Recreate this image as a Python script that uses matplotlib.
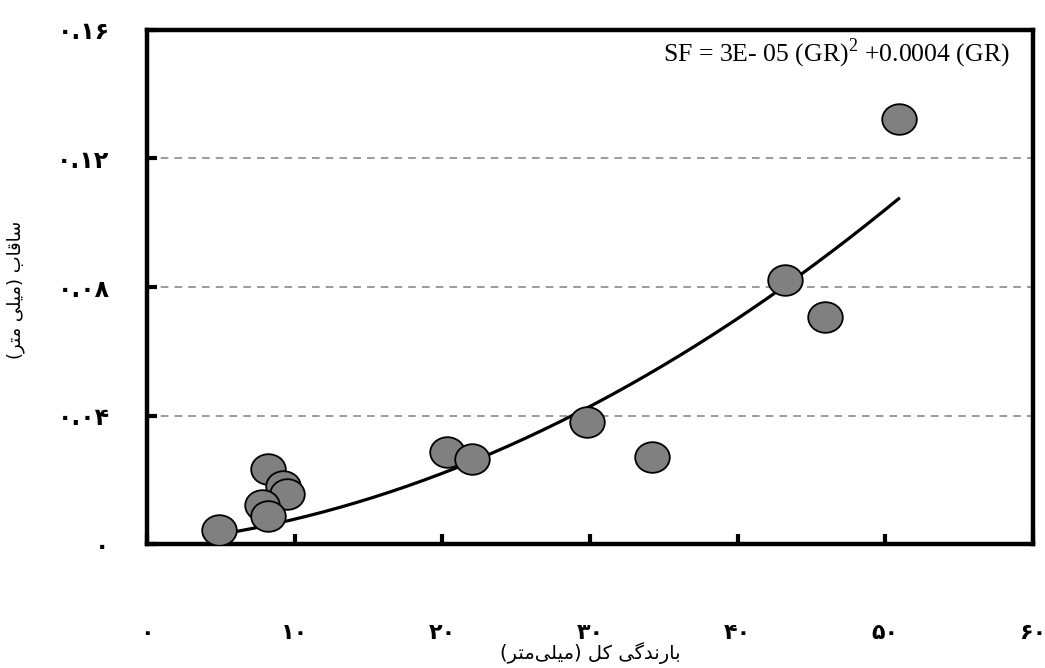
import numpy as np
import matplotlib
matplotlib.use("Agg")
import matplotlib.pyplot as plt
from matplotlib.path import Path
from matplotlib.transforms import Affine2D

# data
rain = [4.9, 8.2, 9.2, 9.5, 7.8, 8.2, 20.3, 22.0, 29.8, 34.2, 43.2, 45.9, 50.9]
stemflow = [0.0044, 0.0233, 0.018, 0.0156, 0.0121, 0.0087, 0.0286, 0.0265,
            0.038, 0.0271, 0.0822, 0.0707, 0.1323]

x_ticks = [0, 10, 20, 30, 40, 50, 60]
x_ticklabels = ["۰", "۱۰", "۲۰", "۳۰", "۴۰", "۵۰", "۶۰"]
y_ticks = [0, 0.04, 0.08, 0.12, 0.16]
y_ticklabels = ["۰", "۰.۰۴", "۰.۰۸", "۰.۱۲", "۰.۱۶"]

x_label = "بارندگی کل (میلی\u200cمتر)"
y_label = "ساقاب (میلی متر)"
equation = "SF = 3E- 05 (GR)$^2$ +0.0004 (GR)"

# contextual forms: isolated, final, initial, medial
FORMS = {
    "ا": ("\uFE8D", "\uFE8E", None, None),
    "ب": ("\uFE8F", "\uFE90", "\uFE91", "\uFE92"),
    "ت": ("\uFE95", "\uFE96", "\uFE97", "\uFE98"),
    "د": ("\uFEA9", "\uFEAA", None, None),
    "ر": ("\uFEAD", "\uFEAE", None, None),
    "س": ("\uFEB1", "\uFEB2", "\uFEB3", "\uFEB4"),
    "ق": ("\uFED5", "\uFED6", "\uFED7", "\uFED8"),
    "ک": ("\uFB8E", "\uFB8F", "\uFB90", "\uFB91"),
    "گ": ("\uFB92", "\uFB93", "\uFB94", "\uFB95"),
    "ل": ("\uFEDD", "\uFEDE", "\uFEDF", "\uFEE0"),
    "م": ("\uFEE1", "\uFEE2", "\uFEE3", "\uFEE4"),
    "ن": ("\uFEE5", "\uFEE6", "\uFEE7", "\uFEE8"),
    "ی": ("\uFBFC", "\uFBFD", "\uFBFE", "\uFBFF"),
}


def shape(text):
    out = []
    for i, ch in enumerate(text):
        if ch not in FORMS:
            out.append(ch)
            continue
        prev = text[i - 1] if i > 0 else ""
        nxt = text[i + 1] if i + 1 < len(text) else ""
        join_prev = prev in FORMS and FORMS[prev][2] is not None
        join_next = nxt in FORMS and FORMS[ch][2] is not None
        iso, fin, ini, med = FORMS[ch]
        if join_prev and join_next:
            out.append(med)
        elif join_prev:
            out.append(fin)
        elif join_next:
            out.append(ini)
        else:
            out.append(iso)
    vis = "".join(out).replace("\u200c", "")[::-1]
    return vis.translate(str.maketrans("()", ")("))


plt.rcParams["mathtext.fontset"] = "custom"
plt.rcParams["mathtext.rm"] = "Liberation Serif"

fig = plt.figure(figsize=(10.45, 6.68), dpi=100)
ax = fig.add_axes([0.1407, 0.1856, 0.8478, 0.7695])

# trend line through the origin, fitted to the points
xs = np.array(rain)
A = np.column_stack([xs ** 2, xs])
coef = np.linalg.lstsq(A, np.array(stemflow), rcond=None)[0]
xf = np.linspace(xs.min(), xs.max(), 200)
ax.plot(xf, coef[0] * xf ** 2 + coef[1] * xf, color="black", lw=2.3, zorder=3)

ellipse = Path.unit_circle().transformed(Affine2D().scale(1.13, 1.0))
ax.scatter(rain, stemflow, marker=ellipse, s=620, facecolor="#808080",
           edgecolor="black", linewidth=1.3, zorder=4)

ax.set_xlim(0, 60)
ax.set_ylim(0, 0.16)
ax.set_xticks(x_ticks)
ax.set_xticklabels(x_ticklabels, fontsize=16, fontweight="bold")
ax.set_yticks(y_ticks)
ax.set_yticklabels(y_ticklabels, fontsize=17, fontweight="bold")
ax.tick_params(axis="x", direction="in", length=7, width=3, pad=57)
ax.tick_params(axis="y", direction="in", length=7, width=3, pad=27)

for s in ax.spines.values():
    s.set_linewidth(3.2)

for y in y_ticks[1:-1]:
    ax.axhline(y, color="#808080", ls=(0, (5, 4)), lw=1.1, zorder=1)

ax.text(0.974, 0.955, equation, transform=ax.transAxes, ha="right", va="center",
        fontsize=18.5, family="Liberation Serif")

ax.set_xlabel(shape(x_label), fontsize=14, va="bottom")
ax.xaxis.set_label_coords(0.5, -0.234)
ax.set_ylabel(shape(y_label), fontsize=13)
ax.yaxis.set_label_coords(-0.138, 0.494)

fig.savefig("out.png", dpi=100)
